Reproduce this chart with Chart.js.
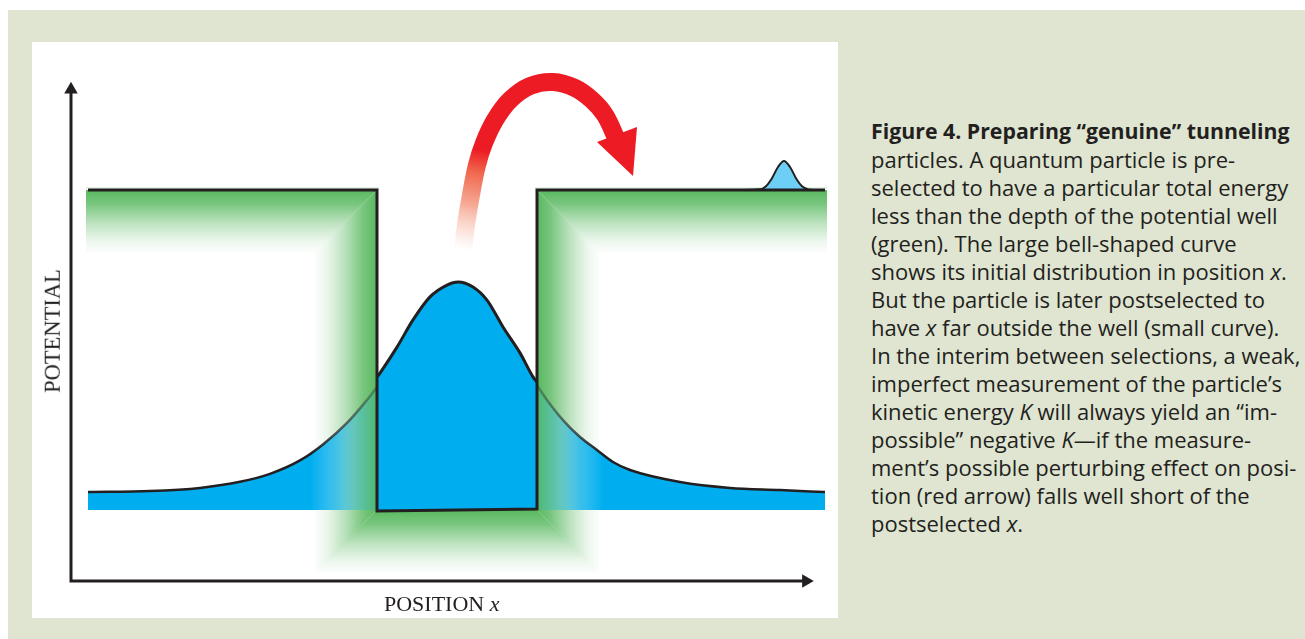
<!DOCTYPE html>
<html><head><meta charset="utf-8">
<script src="https://cdn.jsdelivr.net/npm/chart.js@4.4.1/dist/chart.umd.min.js"></script>
<style>
html,body{margin:0;padding:0;background:#fff;width:1305px;height:639px;overflow:hidden;position:relative;}
#bg{position:absolute;left:8px;top:10px;width:1297px;height:629px;background:#dfe5d0;}
#panel{position:absolute;left:32px;top:42px;width:806px;height:576px;background:#fff;}
#panel canvas{position:absolute;left:0;top:0;}
.serif{position:absolute;font-family:"Liberation Serif","DejaVu Serif",serif;color:#231f20;white-space:nowrap;line-height:1;}
#ylab{left:53px;top:331px;font-size:22.5px;transform:translate(-50%,-50%) rotate(-90deg);}
#xlab{left:384px;top:593px;font-size:22px;}
#cap{position:absolute;left:871px;top:116px;font-family:"Open Sans",sans-serif;font-size:22px;line-height:28px;color:#231f20;white-space:nowrap;}
#cap b{font-weight:700;font-size:21.3px;}
</style></head>
<body>
<div id="bg"></div>
<div id="panel"><canvas id="c" width="806" height="576"></canvas></div>
<div class="serif" id="ylab">POTENTIAL</div>
<div class="serif" id="xlab">POSITION <i>x</i></div>
<div id="cap"><b>Figure 4. Preparing “genuine” tunneling</b><br>particles. A quantum particle is pre-<br>selected to have a particular total energy<br>less than the depth of the potential well<br>(green). The large bell-shaped curve<br>shows its initial distribution in position <i>x</i>.<br>But the particle is later postselected to<br>have <i>x</i> far outside the well (small curve).<br>In the interim between selections, a weak,<br>imperfect measurement of the particle’s<br>kinetic energy <i>K</i> will always yield an “im-<br>possible” negative <i>K</i>—if the measure-<br>ment’s possible perturbing effect on posi-<br>tion (red arrow) falls well short of the<br>postselected <i>x</i>.</div>
<script>
// ---- data (position x in well half-widths, potential in well depths) ----
const potentialX = [-4.6125, -1, -1, 1, 1, 4.6];
const potentialV = [1, 1, -0.003, 0.003, 1, 1];

const tailLeftX = [-4.6125, -3.8375, -3.2125, -2.7125, -2.3375, -1.9625, -1.675, -1.375, -1.125, -1.0];
const tailLeftV = [0.056, 0.059, 0.069, 0.088, 0.113, 0.155, 0.205, 0.272, 0.344, 0.384];

const bellX = [-1.0, -0.9625, -0.75, -0.55, -0.3375, -0.125, 0.0125, 0.2, 0.375, 0.575, 0.7875, 0.95, 1.0];
const bellV = [0.415, 0.428, 0.509, 0.594, 0.666, 0.703, 0.7125, 0.697, 0.656, 0.572, 0.491, 0.416, 0.40];

const tailRightX = [1.0, 1.125, 1.325, 1.5375, 1.75, 1.95, 2.1625, 2.7875, 3.4125, 4.0375, 4.6];
const tailRightV = [0.39, 0.344, 0.281, 0.228, 0.1875, 0.15, 0.125, 0.0875, 0.069, 0.0625, 0.056];

const bumpX = [3.5375, 3.7875, 3.8625, 3.9375, 4.0125, 4.0875, 4.1625, 4.2375, 4.3125, 4.3875, 4.4375];
const bumpV = [1.0, 1.002, 1.012, 1.037, 1.072, 1.0906, 1.072, 1.037, 1.012, 1.002, 1.0];

const arrowX = [0.075, 0.1125, 0.175, 0.25, 0.3375, 0.475, 0.6625, 0.9125, 1.2, 1.475, 1.6875, 1.85, 2.0];
const arrowV = [0.8125, 0.8906, 0.9844, 1.0781, 1.1469, 1.2188, 1.2813, 1.325, 1.3375, 1.3188, 1.2813, 1.2344, 1.156];
const arrowHeadX = [2.2, 1.75, 2.25, 2.2];
const arrowHeadV = [1.0438, 1.15, 1.1969, 1.0438];

const axesX = [-4.825, -4.825, 4.3625];
const axesV = [1.314, -0.222, -0.222];

const xRange = [-5.3125, 4.7625];
const vRange = [-0.3375, 1.4625];

// ---- helpers ----
const zip = (xs, ys) => xs.map((x, i) => ({x, y: ys[i]}));
const INK = '#231f20';
const ok = (...v) => v.every(Number.isFinite);

function tailGrad(chart, side, kind) {
  const sx = chart.scales.x;
  const fallback = kind === 'fill' ? 'rgba(0,174,239,1)' : INK;
  if (!sx || !chart.chartArea) return fallback;
  const wall = sx.getPixelForValue(side < 0 ? -1 : 1);
  const far = wall + side * 66;
  if (!ok(wall, far)) return fallback;
  const g = chart.ctx.createLinearGradient(far, 0, wall, 0);
  if (kind === 'fill') {
    g.addColorStop(0, 'rgba(0,174,239,1)');
    g.addColorStop(0.35, 'rgba(0,174,239,0.72)');
    g.addColorStop(0.65, 'rgba(0,174,239,0.35)');
    g.addColorStop(1, 'rgba(0,174,239,0.12)');
  } else {
    g.addColorStop(0, 'rgba(35,31,32,1)');
    g.addColorStop(1, 'rgba(35,31,32,0.3)');
  }
  return g;
}

function arrowGrad(chart) {
  const sx = chart.scales.x, sy = chart.scales.y;
  if (!sx || !sy || !chart.chartArea) return '#ed1c24';
  const x0 = sx.getPixelForValue(arrowX[0]), y0 = sy.getPixelForValue(arrowV[0]);
  const x1 = sx.getPixelForValue(arrowX[4]), y1 = sy.getPixelForValue(arrowV[4]);
  if (!ok(x0, y0, x1, y1)) return '#ed1c24';
  const g = chart.ctx.createLinearGradient(x0, y0, x1, y1);
  g.addColorStop(0, 'rgba(250,215,205,0)');
  g.addColorStop(0.2, 'rgba(249,200,185,0.6)');
  g.addColorStop(0.42, 'rgba(246,170,150,1)');
  g.addColorStop(0.72, 'rgba(240,104,78,1)');
  g.addColorStop(0.93, 'rgba(237,28,36,1)');
  g.addColorStop(1, 'rgba(237,28,36,1)');
  return g;
}

const glowPlugin = {
  id: 'glow',
  beforeDatasetsDraw(chart) {
    const {ctx} = chart, sx = chart.scales.x, sy = chart.scales.y;
    const L = sx.getPixelForValue(potentialX[0]);
    const WL = sx.getPixelForValue(-1), WR = sx.getPixelForValue(1);
    const R = sx.getPixelForValue(potentialX[potentialX.length - 1]);
    const T = sy.getPixelForValue(1), B = sy.getPixelForValue(0);
    const d = 64;
    const band = (poly, x0, y0, x1, y1) => {
      const g = ctx.createLinearGradient(x0, y0, x1, y1);
      g.addColorStop(0, 'rgba(88,184,95,1)');
      g.addColorStop(0.22, 'rgba(88,184,95,0.8)');
      g.addColorStop(0.5, 'rgba(88,184,95,0.42)');
      g.addColorStop(0.78, 'rgba(88,184,95,0.12)');
      g.addColorStop(1, 'rgba(88,184,95,0)');
      ctx.save();
      ctx.beginPath();
      poly.forEach((p, i) => i ? ctx.lineTo(p[0], p[1]) : ctx.moveTo(p[0], p[1]));
      ctx.closePath();
      ctx.fillStyle = g;
      ctx.fill();
      ctx.restore();
    };
    band([[L - 2, T], [WL, T], [WL - d, T + d], [L - 2, T + d]], 0, T, 0, T + d);
    band([[WL, T], [WL, B], [WL - d, B + d], [WL - d, T + d]], WL, 0, WL - d, 0);
    band([[WL, B], [WR, B], [WR + d, B + d], [WL - d, B + d]], 0, B, 0, B + d);
    band([[WR, T], [WR + d, T + d], [WR + d, B + d], [WR, B]], WR, 0, WR + d, 0);
    band([[WR, T], [R + 2, T], [R + 2, T + d], [WR + d, T + d]], 0, T, 0, T + d);
    ctx.save();
    ctx.strokeStyle = 'rgba(160,210,160,0.55)';
    ctx.lineWidth = 1;
    ctx.beginPath();
    ctx.moveTo(L - 2, T - 2); ctx.lineTo(WL + 2, T - 2);
    ctx.moveTo(WR - 2, T - 2); ctx.lineTo(R + 2, T - 2);
    ctx.stroke();
    ctx.restore();
  }
};

const common = {pointRadius: 0, pointHoverRadius: 0, clip: false};

new Chart(document.getElementById('c'), {
  type: 'line',
  data: {
    datasets: [
      Object.assign({}, common, {
        label: 'left tail', data: zip(tailLeftX, tailLeftV), order: 5,
        fill: 'origin', cubicInterpolationMode: 'monotone', borderWidth: 2.5,
        backgroundColor: c => tailGrad(c.chart, -1, 'fill'),
        borderColor: c => tailGrad(c.chart, -1, 'line')
      }),
      Object.assign({}, common, {
        label: 'right tail', data: zip(tailRightX, tailRightV), order: 5,
        fill: 'origin', cubicInterpolationMode: 'monotone', borderWidth: 2.5,
        backgroundColor: c => tailGrad(c.chart, 1, 'fill'),
        borderColor: c => tailGrad(c.chart, 1, 'line')
      }),
      Object.assign({}, common, {
        label: 'initial distribution', data: zip(bellX, bellV), order: 4,
        fill: 'origin', cubicInterpolationMode: 'monotone', borderWidth: 3,
        backgroundColor: '#00aeef', borderColor: INK
      }),
      Object.assign({}, common, {
        label: 'postselected', data: zip(bumpX, bumpV), order: 3,
        fill: {target: {value: 1}}, cubicInterpolationMode: 'monotone', borderWidth: 2,
        backgroundColor: '#6dcff6', borderColor: INK
      }),
      Object.assign({}, common, {
        label: 'potential', data: zip(potentialX, potentialV), order: 2,
        fill: false, tension: 0, borderWidth: 3, borderColor: INK,
        borderJoinStyle: 'miter'
      }),
      Object.assign({}, common, {
        label: 'axes', data: zip(axesX, axesV), order: 1,
        fill: false, tension: 0, borderWidth: 3, borderColor: INK, borderJoinStyle: 'miter',
        pointStyle: 'triangle',
        pointRadius: c => c.dataIndex === 1 ? 0 : 7.8,
        pointRotation: c => c.dataIndex === 2 ? 90 : 0,
        pointBackgroundColor: INK, pointBorderWidth: 0
      }),
      Object.assign({}, common, {
        label: 'arrow', data: zip(arrowX, arrowV), order: 0,
        fill: false, tension: 0.4, borderWidth: 18, borderCapStyle: 'butt',
        borderColor: c => arrowGrad(c.chart)
      }),
      Object.assign({}, common, {
        label: 'arrow head', data: zip(arrowHeadX, arrowHeadV), order: 0,
        fill: 'shape', tension: 0, borderWidth: 0,
        backgroundColor: '#ed1c24', borderColor: 'rgba(0,0,0,0)'
      })
    ]
  },
  options: {
    responsive: false, animation: false, devicePixelRatio: 1,
    layout: {padding: 0, autoPadding: false},
    scales: {
      x: {type: 'linear', min: xRange[0], max: xRange[1], display: false},
      y: {type: 'linear', min: vRange[0], max: vRange[1], display: false}
    },
    plugins: {legend: {display: false}, tooltip: {enabled: false}}
  },
  plugins: [glowPlugin]
});
</script>
</body></html>
